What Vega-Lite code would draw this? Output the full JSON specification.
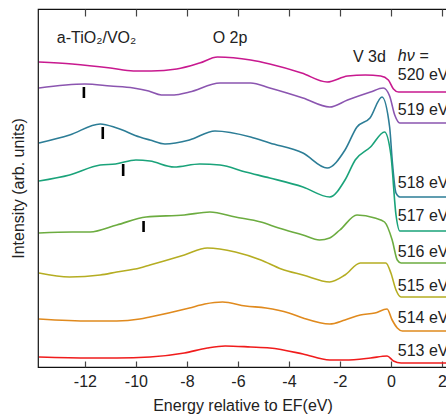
{
  "$schema": "https://vega.github.io/schema/vega-lite/v6.json",
  "autosize": {"type": "none"},
  "padding": {"left": 38, "top": 9, "right": 0, "bottom": 48},
  "width": 409,
  "height": 358,
  "background": "white",
  "config": {
    "font": "Liberation Sans",
    "view": {"stroke": "#111", "strokeWidth": 1.2},
    "axis": {"domain": false, "grid": false}
  },
  "resolve": {"axis": {"x": "independent"}},
  "datasets": {
    "spectra": [
      {"s": "520", "E": -13.8, "I": 305}, {"s": "520", "E": -12.5, "I": 303}, {"s": "520", "E": -11, "I": 299}, {"s": "520", "E": -10.1, "I": 296}, {"s": "520", "E": -9.4, "I": 296}, {"s": "520", "E": -8.4, "I": 298}, {"s": "520", "E": -7.5, "I": 304}, {"s": "520", "E": -6.8, "I": 310}, {"s": "520", "E": -5.5, "I": 307}, {"s": "520", "E": -4.75, "I": 303}, {"s": "520", "E": -3.5, "I": 294}, {"s": "520", "E": -2.5, "I": 285}, {"s": "520", "E": -1.7, "I": 291}, {"s": "520", "E": -1.0, "I": 292}, {"s": "520", "E": -0.4, "I": 291}, {"s": "520", "E": -0.1, "I": 287}, {"s": "520", "E": 0.1, "I": 278}, {"s": "520", "E": 0.3, "I": 275}, {"s": "520", "E": 2.2, "I": 275},
      {"s": "519", "E": -13.8, "I": 279}, {"s": "519", "E": -12, "I": 283}, {"s": "519", "E": -11, "I": 281}, {"s": "519", "E": -10.1, "I": 279}, {"s": "519", "E": -9.5, "I": 276}, {"s": "519", "E": -9.0, "I": 272}, {"s": "519", "E": -8.5, "I": 272}, {"s": "519", "E": -7.9, "I": 275}, {"s": "519", "E": -6.7, "I": 284}, {"s": "519", "E": -5.5, "I": 284}, {"s": "519", "E": -4.75, "I": 279}, {"s": "519", "E": -3.45, "I": 269}, {"s": "519", "E": -2.4, "I": 260}, {"s": "519", "E": -1.7, "I": 267}, {"s": "519", "E": -0.8, "I": 275}, {"s": "519", "E": -0.3, "I": 279}, {"s": "519", "E": -0.05, "I": 271}, {"s": "519", "E": 0.15, "I": 252}, {"s": "519", "E": 0.35, "I": 244}, {"s": "519", "E": 2.2, "I": 244},
      {"s": "518", "E": -13.8, "I": 224}, {"s": "518", "E": -12.6, "I": 232}, {"s": "518", "E": -11.4, "I": 243}, {"s": "518", "E": -10.75, "I": 239}, {"s": "518", "E": -9.85, "I": 230}, {"s": "518", "E": -9.45, "I": 227}, {"s": "518", "E": -8.86, "I": 223}, {"s": "518", "E": -7.9, "I": 227}, {"s": "518", "E": -6.9, "I": 236}, {"s": "518", "E": -5.5, "I": 230}, {"s": "518", "E": -4.75, "I": 224}, {"s": "518", "E": -3.45, "I": 214}, {"s": "518", "E": -2.5, "I": 199}, {"s": "518", "E": -1.8, "I": 217}, {"s": "518", "E": -1.33, "I": 240}, {"s": "518", "E": -0.82, "I": 249}, {"s": "518", "E": -0.35, "I": 270}, {"s": "518", "E": -0.05, "I": 240}, {"s": "518", "E": 0.05, "I": 207}, {"s": "518", "E": 0.2, "I": 174}, {"s": "518", "E": 0.35, "I": 170}, {"s": "518", "E": 2.2, "I": 170},
      {"s": "517", "E": -13.8, "I": 186}, {"s": "517", "E": -12.6, "I": 192}, {"s": "517", "E": -11.4, "I": 202}, {"s": "517", "E": -10.8, "I": 203}, {"s": "517", "E": -10.0, "I": 207}, {"s": "517", "E": -9.45, "I": 206}, {"s": "517", "E": -8.5, "I": 200}, {"s": "517", "E": -7.5, "I": 203}, {"s": "517", "E": -6.7, "I": 202}, {"s": "517", "E": -5.7, "I": 195}, {"s": "517", "E": -4.75, "I": 189}, {"s": "517", "E": -3.45, "I": 180}, {"s": "517", "E": -2.4, "I": 170}, {"s": "517", "E": -1.8, "I": 187}, {"s": "517", "E": -1.4, "I": 207}, {"s": "517", "E": -0.8, "I": 220}, {"s": "517", "E": -0.25, "I": 235}, {"s": "517", "E": 0.0, "I": 212}, {"s": "517", "E": 0.2, "I": 152}, {"s": "517", "E": 0.35, "I": 136}, {"s": "517", "E": 2.2, "I": 136},
      {"s": "516", "E": -13.8, "I": 134}, {"s": "516", "E": -12.5, "I": 135}, {"s": "516", "E": -11.8, "I": 135}, {"s": "516", "E": -10.75, "I": 142}, {"s": "516", "E": -9.6, "I": 150}, {"s": "516", "E": -8.1, "I": 152}, {"s": "516", "E": -7.1, "I": 155}, {"s": "516", "E": -6.1, "I": 150}, {"s": "516", "E": -5.1, "I": 145}, {"s": "516", "E": -4.4, "I": 139}, {"s": "516", "E": -3.45, "I": 132}, {"s": "516", "E": -2.8, "I": 127}, {"s": "516", "E": -2.4, "I": 129}, {"s": "516", "E": -2.0, "I": 137}, {"s": "516", "E": -1.33, "I": 152}, {"s": "516", "E": -0.63, "I": 149}, {"s": "516", "E": -0.25, "I": 145}, {"s": "516", "E": 0.05, "I": 127}, {"s": "516", "E": 0.25, "I": 107}, {"s": "516", "E": 0.4, "I": 104}, {"s": "516", "E": 2.2, "I": 104},
      {"s": "515", "E": -13.8, "I": 94}, {"s": "515", "E": -12.6, "I": 90}, {"s": "515", "E": -11.4, "I": 92}, {"s": "515", "E": -10.75, "I": 95}, {"s": "515", "E": -9.85, "I": 99}, {"s": "515", "E": -9.45, "I": 102}, {"s": "515", "E": -8.1, "I": 112}, {"s": "515", "E": -7.2, "I": 119}, {"s": "515", "E": -6.1, "I": 115}, {"s": "515", "E": -5.1, "I": 107}, {"s": "515", "E": -4.3, "I": 98}, {"s": "515", "E": -3.45, "I": 92}, {"s": "515", "E": -2.4, "I": 85}, {"s": "515", "E": -1.8, "I": 92}, {"s": "515", "E": -1.2, "I": 104}, {"s": "515", "E": -0.63, "I": 104}, {"s": "515", "E": -0.2, "I": 104}, {"s": "515", "E": 0.0, "I": 94}, {"s": "515", "E": 0.2, "I": 77}, {"s": "515", "E": 0.4, "I": 70}, {"s": "515", "E": 2.2, "I": 70},
      {"s": "514", "E": -13.8, "I": 48}, {"s": "514", "E": -11.8, "I": 46}, {"s": "514", "E": -10.75, "I": 46}, {"s": "514", "E": -9.85, "I": 48}, {"s": "514", "E": -9.45, "I": 50}, {"s": "514", "E": -7.9, "I": 59}, {"s": "514", "E": -7.3, "I": 63}, {"s": "514", "E": -6.6, "I": 65}, {"s": "514", "E": -5.7, "I": 61}, {"s": "514", "E": -4.9, "I": 59}, {"s": "514", "E": -4.0, "I": 54}, {"s": "514", "E": -3.45, "I": 49}, {"s": "514", "E": -2.4, "I": 43}, {"s": "514", "E": -1.8, "I": 47}, {"s": "514", "E": -1.2, "I": 52}, {"s": "514", "E": -0.63, "I": 54}, {"s": "514", "E": -0.15, "I": 58}, {"s": "514", "E": 0.05, "I": 47}, {"s": "514", "E": 0.25, "I": 39}, {"s": "514", "E": 0.45, "I": 36}, {"s": "514", "E": 2.2, "I": 36},
      {"s": "513", "E": -13.8, "I": 10}, {"s": "513", "E": -11.8, "I": 9}, {"s": "513", "E": -10.75, "I": 9}, {"s": "513", "E": -9.45, "I": 10}, {"s": "513", "E": -8.1, "I": 14}, {"s": "513", "E": -7.2, "I": 19}, {"s": "513", "E": -6.5, "I": 21}, {"s": "513", "E": -5.5, "I": 20}, {"s": "513", "E": -4.75, "I": 19}, {"s": "513", "E": -3.45, "I": 13}, {"s": "513", "E": -2.4, "I": 7}, {"s": "513", "E": -1.8, "I": 7}, {"s": "513", "E": -0.8, "I": 9}, {"s": "513", "E": -0.15, "I": 11}, {"s": "513", "E": 0.1, "I": 6}, {"s": "513", "E": 0.4, "I": 4}, {"s": "513", "E": 2.2, "I": 4}
    ],
    "bars": [
      {"E": -12.04, "y1": 269, "y2": 280},
      {"E": -11.3, "y1": 228, "y2": 240},
      {"E": -10.5, "y1": 191, "y2": 203},
      {"E": -9.7, "y1": 135, "y2": 146}
    ],
    "leftLabels": [
      {"E": -13.1, "I": 324, "t": "a-TiO₂/VO₂"},
      {"E": 0.27, "I": 287, "t": "520 eV"},
      {"E": 0.27, "I": 252, "t": "519 eV"},
      {"E": 0.27, "I": 179, "t": "518 eV"},
      {"E": 0.27, "I": 146, "t": "517 eV"},
      {"E": 0.27, "I": 110, "t": "516 eV"},
      {"E": 0.27, "I": 76, "t": "515 eV"},
      {"E": 0.27, "I": 44, "t": "514 eV"},
      {"E": 0.27, "I": 11, "t": "513 eV"}
    ],
    "midLabels": [{"E": -6.31, "I": 324, "t": "O 2p"}],
    "rightLabels": [{"E": -0.2, "I": 305, "t": "V 3d"}],
    "hv": [{"E": 0.27, "I": 306, "t": "hν ="}]
  },
  "encoding": {
    "x": {
      "field": "E", "type": "quantitative",
      "scale": {"domain": [-13.84, 2.2], "nice": false, "zero": false},
      "axis": null
    },
    "y": {
      "field": "I", "type": "quantitative",
      "scale": {"domain": [0, 358], "nice": false},
      "axis": {
        "title": "Intensity (arb. units)",
        "titleFontSize": 16, "titleFontWeight": "normal", "titleColor": "#222",
        "titlePadding": 12,
        "labels": false, "ticks": false
      }
    }
  },
  "layer": [
    {
      "data": {"name": "spectra"},
      "mark": {"type": "line", "strokeWidth": 1.6, "clip": true, "interpolate": "monotone"},
      "encoding": {
        "x": {
          "field": "E", "type": "quantitative",
          "axis": {
            "orient": "bottom",
            "values": [-12, -10, -8, -6, -4, -2, 0, 2],
            "labelExpr": "toString(datum.value)",
            "title": "Energy relative to EF(eV)",
            "titleFontSize": 16, "titleFontWeight": "normal", "titleColor": "#222",
            "titlePadding": 8,
            "labelFontSize": 16, "labelColor": "#222", "labelPadding": 12,
            "tickSize": -6, "tickColor": "#444", "tickWidth": 1.2
          }
        },
        "color": {
          "field": "s", "type": "nominal", "legend": null,
          "scale": {
            "domain": ["513", "514", "515", "516", "517", "518", "519", "520"],
            "range": ["#f01c1c", "#e08a1e", "#b5ad22", "#6cac40", "#1aa37a", "#2c7d96", "#8b55b0", "#c8198f"]
          }
        }
      }
    },
    {
      "data": {"values": [{"E": 0}]},
      "mark": {"type": "rule", "color": "#111", "strokeWidth": 1.2},
      "encoding": {"x": {"field": "E", "type": "quantitative", "axis": {"orient": "top", "labels": false, "title": null, "values": [-12, -10, -8, -6, -4, -2, 0, 2], "tickSize": -7, "tickColor": "#444", "tickWidth": 1.2}}, "y": {"datum": 0}, "y2": {"datum": 358}}
    },
    {
      "data": {"name": "bars"},
      "mark": {"type": "rule", "color": "#000", "strokeWidth": 2.6},
      "encoding": {"y": {"field": "y1", "type": "quantitative"}, "y2": {"field": "y2"}}
    },
    {
      "data": {"name": "leftLabels"},
      "mark": {"type": "text", "align": "left", "baseline": "alphabetic", "fontSize": 16, "color": "#222"},
      "encoding": {"text": {"field": "t"}}
    },
    {
      "data": {"name": "midLabels"},
      "mark": {"type": "text", "align": "center", "baseline": "alphabetic", "fontSize": 16, "color": "#222"},
      "encoding": {"text": {"field": "t"}}
    },
    {
      "data": {"name": "rightLabels"},
      "mark": {"type": "text", "align": "right", "baseline": "alphabetic", "fontSize": 16, "color": "#222"},
      "encoding": {"text": {"field": "t"}}
    },
    {
      "data": {"name": "hv"},
      "mark": {"type": "text", "align": "left", "baseline": "alphabetic", "fontSize": 16, "fontStyle": "italic", "color": "#222"},
      "encoding": {"text": {"field": "t"}}
    }
  ]
}
